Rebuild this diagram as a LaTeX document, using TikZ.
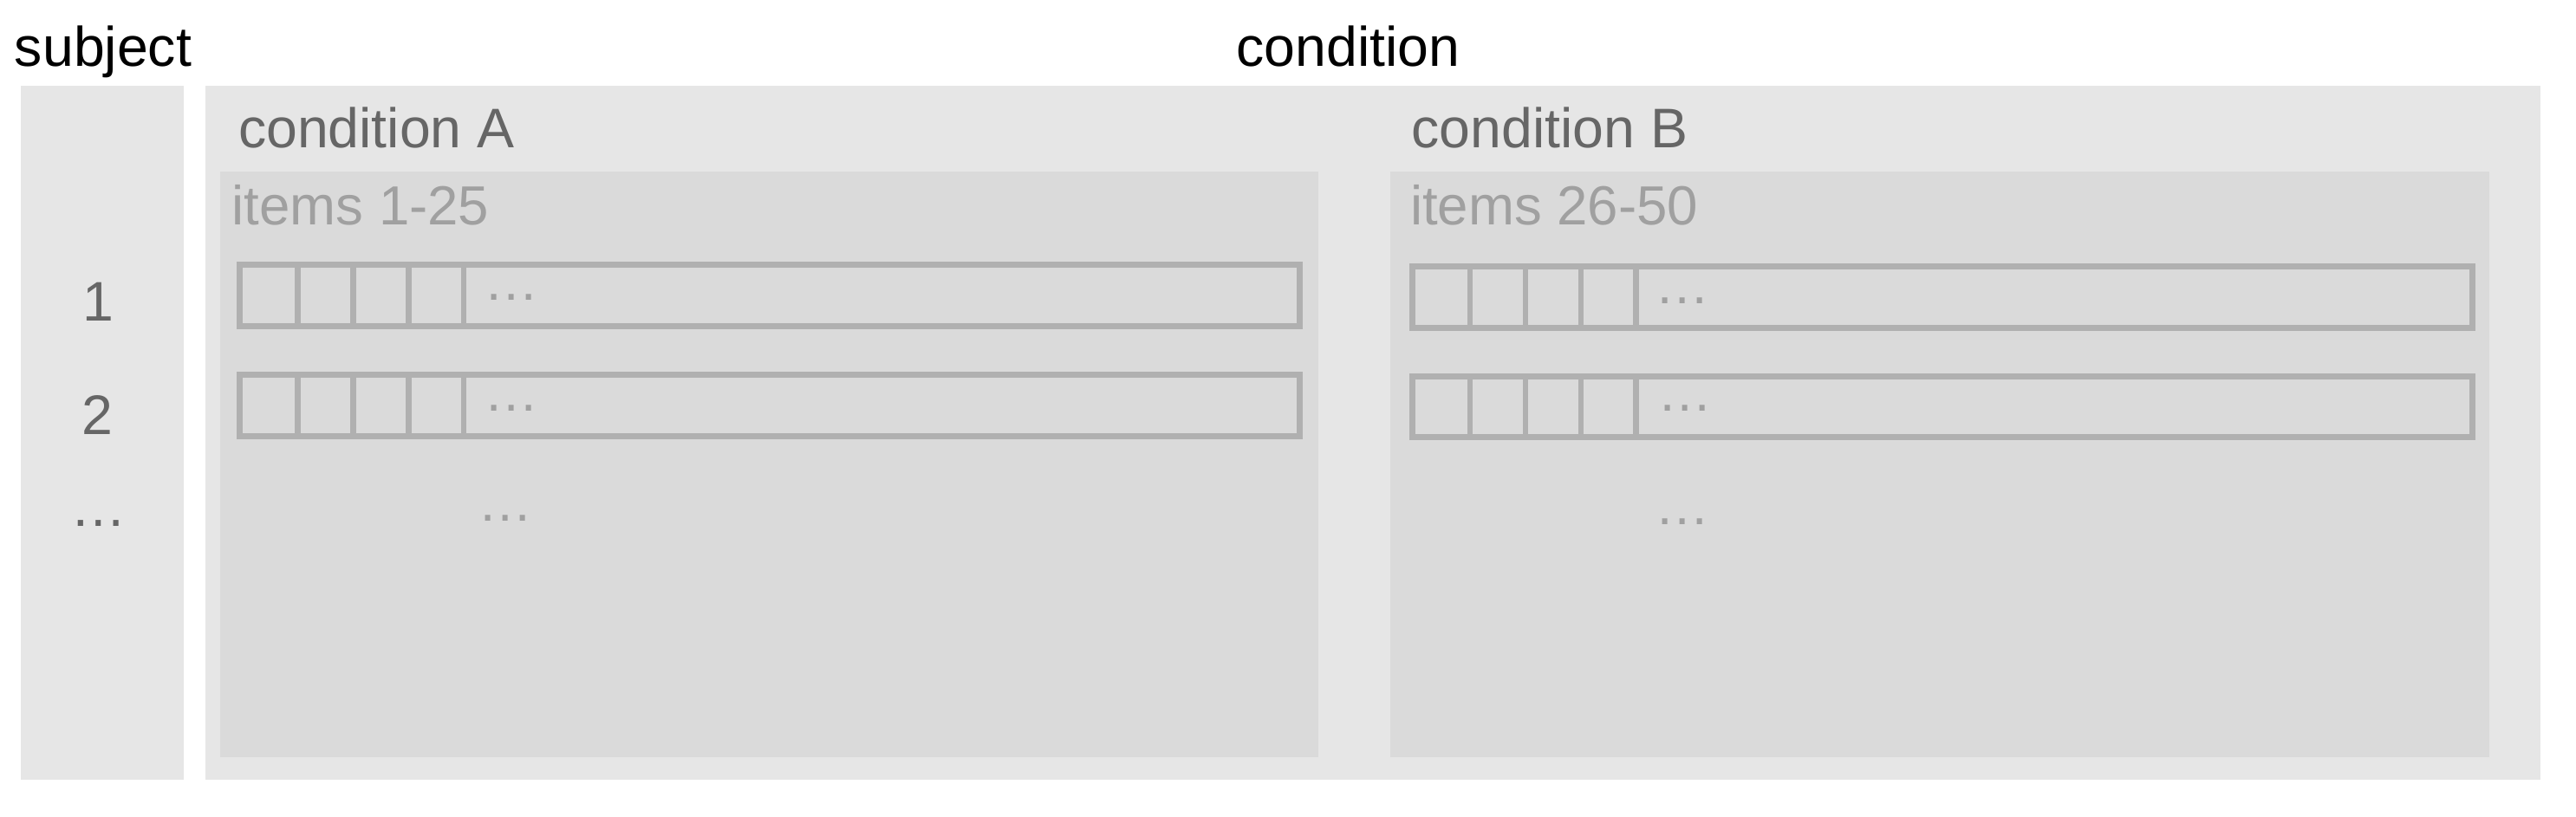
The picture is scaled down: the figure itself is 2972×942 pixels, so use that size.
\documentclass[tikz,border=0pt]{standalone}
\usepackage{fontspec}
\setmainfont{Liberation Sans}
\definecolor{boxlight}{HTML}{E6E6E6}
\definecolor{boxinner}{HTML}{DADADA}
\definecolor{rowline}{HTML}{B0B0B0}
\definecolor{darktext}{HTML}{666666}
\definecolor{lighttext}{HTML}{A0A0A0}
\tikzset{
  px/.style={x=0.25pt,y=-0.25pt},
  bigtxt/.style={inner sep=0pt,outer sep=0pt,font=\fontsize{16.1pt}{18pt}\selectfont},
  itemtxt/.style={inner sep=0pt,outer sep=0pt,font=\fontsize{15.9pt}{18pt}\selectfont,text=lighttext},
  rowbox/.style={draw=rowline,line width=1.7pt},
  rowdots/.style={inner sep=0pt,outer sep=0pt,font=\fontsize{15.8pt}{18pt}\selectfont,text=lighttext,anchor=base},
}
\begin{document}
\begin{tikzpicture}[px]
\useasboundingbox (0,0) rectangle (2972,942);
% boxes
\fill[boxlight] (24,99) rectangle (211.7,899.7);
\fill[boxlight] (237.3,99.3) rectangle (2931,900);
\fill[boxinner] (254,197.7) rectangle (1521.4,873.7);
\fill[boxinner] (1604,197.5) rectangle (2872,873.5);
% rows condition A
\draw[rowbox] (276.5,305.8) rectangle (1499.5,376.2);
\foreach \x in {343.7,407.3,471.3,535} \draw[rowbox] (\x,305.8) -- (\x,376.2);
\draw[rowbox] (276.5,432.5) rectangle (1499.5,503.2);
\foreach \x in {343.7,407.3,471.3,535} \draw[rowbox] (\x,432.5) -- (\x,503.2);
% rows condition B
\draw[rowbox] (1629.5,307.5) rectangle (2852.2,378.2);
\foreach \x in {1696,1760,1824,1887.7} \draw[rowbox] (\x,307.5) -- (\x,378.2);
\draw[rowbox] (1629.5,434.2) rectangle (2852.2,504.8);
\foreach \x in {1696,1760,1824,1887.7} \draw[rowbox] (\x,434.2) -- (\x,504.8);
% labels
\node[bigtxt,anchor=base west] (subj) at (17,76) {subject};
\node[bigtxt,anchor=base] (cond) at (1555.5,76.7) {condition};
\node[bigtxt,anchor=base west,text=darktext] (condA) at (275,170) {condition A};
\node[bigtxt,anchor=base west,text=darktext] (condB) at (1628.5,170) {condition B};
\node[itemtxt,anchor=base west] (itemsA) at (267.5,259.3) {items 1-25};
\node[itemtxt,anchor=base west] (itemsB) at (1627,259) {items 26-50};
\node[bigtxt,anchor=base,text=darktext] (s1) at (113,370) {1};
\node[bigtxt,anchor=base,text=darktext] (s2) at (112.7,501.7) {2};
\node[bigtxt,anchor=base,text=darktext] (sdots) at (114,607.5) {…};
% dots
\node[rowdots] (a1dots) at (590,346) {…};
\node[rowdots] (a2dots) at (590,474) {…};
\node[rowdots] (adots) at (582.7,601) {…};
\node[rowdots] (b1dots) at (1941,350) {…};
\node[rowdots] (b2dots) at (1944,474) {…};
\node[rowdots] (bdots) at (1941,605) {…};
\end{tikzpicture}
\end{document}
